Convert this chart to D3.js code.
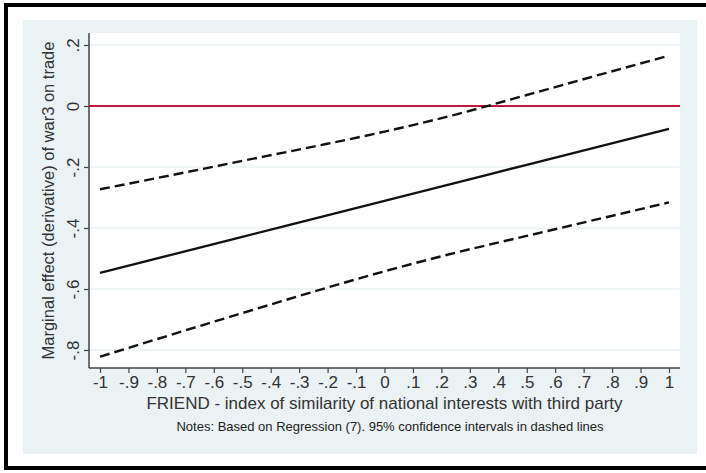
<!DOCTYPE html>
<html>
<head>
<meta charset="utf-8">
<script src="https://cdn.jsdelivr.net/npm/d3@7"></script>
<style>
  body { margin: 0; background: #fff; }
  svg { display: block; font-family: "Liberation Sans", Arial, sans-serif; }
</style>
</head>
<body>
<svg id="chart" width="706" height="473"></svg>
<script>
// values
var friend = [-1, -0.75, -0.5, -0.25, 0, 0.25, 0.5, 0.75, 1];
var marginal = [-0.547, -0.488, -0.429, -0.370, -0.311, -0.252, -0.193, -0.134, -0.075];
var upperCI = [-0.273, -0.227, -0.180, -0.133, -0.084, -0.028, 0.036, 0.101, 0.165];
var lowerCI = [-0.822, -0.750, -0.679, -0.609, -0.542, -0.481, -0.426, -0.371, -0.316];
var xTicks = [-1, -0.9, -0.8, -0.7, -0.6, -0.5, -0.4, -0.3, -0.2, -0.1, 0, 0.1, 0.2, 0.3, 0.4, 0.5, 0.6, 0.7, 0.8, 0.9, 1];
var yTicks = [0.2, 0, -0.2, -0.4, -0.6, -0.8];

var svg = d3.select("#chart");

var plotLeft = 89, plotRight = 680, plotTop = 33, plotBottom = 368;

var xScale = d3.scaleLinear().domain([-1, 1]).range([100, 669]);
var yScale = d3.scaleLinear().domain([-0.8, 0.2]).range([350, 45]);

// stata style labels: -1, -.9, ... 0, .1, ... 1
function fmt(d) {
    var r = Math.round(d * 10) / 10;
    if (r === 0) return "0";
    var s = String(Math.abs(r)).replace(/^0\./, ".");
    return (r < 0 ? "-" : "") + s;
}

// outer frame
svg.append("rect")
    .attr("x", 6).attr("y", 5).attr("width", 710).attr("height", 463)
    .attr("fill", "none").attr("stroke", "#000").attr("stroke-width", 4);

// graph background
svg.append("rect")
    .attr("x", 23).attr("y", 20).attr("width", 674).attr("height", 434)
    .attr("fill", "#eaf2f3");

// plot region
svg.append("rect")
    .attr("x", plotLeft).attr("y", plotTop)
    .attr("width", plotRight - plotLeft).attr("height", plotBottom - plotTop)
    .attr("fill", "#fff");

// grid
svg.append("g").selectAll("line")
    .data(yTicks)
    .enter().append("line")
    .attr("x1", plotLeft).attr("x2", plotRight)
    .attr("y1", d => yScale(d)).attr("y2", d => yScale(d))
    .attr("stroke", "#eaf2f3").attr("stroke-width", 1.5);

// y axis
var yAxis = svg.append("g")
    .attr("transform", "translate(" + plotLeft + ",0)")
    .call(d3.axisLeft(yScale).tickValues(yTicks).tickFormat(fmt).tickSize(5).tickPadding(3));
yAxis.select(".domain").attr("d", "M0," + plotTop + "V" + plotBottom)
    .attr("stroke", "#444").attr("stroke-width", 1.5);
yAxis.selectAll(".tick line").attr("stroke", "#444").attr("stroke-width", 1.2);
yAxis.selectAll(".tick text")
    .attr("transform", "rotate(-90)")
    .attr("x", 0).attr("y", -10)
    .attr("dy", 0)
    .style("text-anchor", "middle")
    .attr("font-size", 17).attr("fill", "#333");

// x axis
var xAxis = svg.append("g")
    .attr("transform", "translate(0," + plotBottom + ")")
    .call(d3.axisBottom(xScale).tickValues(xTicks).tickFormat(fmt).tickSize(5).tickPadding(3));
xAxis.select(".domain").attr("d", "M" + plotLeft + ",0H" + plotRight)
    .attr("stroke", "#444").attr("stroke-width", 1.5);
xAxis.selectAll(".tick line").attr("stroke", "#444").attr("stroke-width", 1.2);
xAxis.selectAll(".tick text").attr("font-size", 17).attr("fill", "#333");

// reference line at zero
svg.append("line")
    .attr("x1", plotLeft).attr("x2", plotRight)
    .attr("y1", yScale(0)).attr("y2", yScale(0))
    .attr("stroke", "#c8143e").attr("stroke-width", 2.2);

function drawLine(values, dash) {
    var line = d3.line()
        .x(function(d, i) { return xScale(friend[i]); })
        .y(function(d) { return yScale(d); })
        .curve(d3.curveMonotoneX);
    svg.append("path")
        .datum(values)
        .attr("fill", "none")
        .attr("stroke", "#111")
        .attr("stroke-width", 2.4)
        .attr("stroke-dasharray", dash)
        .attr("d", line);
}

drawLine(upperCI, "10,5");
drawLine(lowerCI, "10,5");
drawLine(marginal, null);

// axis titles
svg.append("text")
    .attr("x", (plotLeft + plotRight) / 2).attr("y", 409)
    .attr("text-anchor", "middle").attr("font-size", 17).attr("fill", "#333")
    .text("FRIEND - index of similarity of national interests with third party");

svg.append("text")
    .attr("transform", "translate(54," + (plotTop + plotBottom) / 2 + ") rotate(-90)")
    .attr("text-anchor", "middle").attr("font-size", 16.5).attr("fill", "#333")
    .text("Marginal effect (derivative) of war3 on trade");

svg.append("text")
    .attr("x", 390).attr("y", 431)
    .attr("text-anchor", "middle").attr("font-size", 13).attr("fill", "#222")
    .text("Notes: Based on Regression (7). 95% confidence intervals in dashed lines");
</script>
</body>
</html>
